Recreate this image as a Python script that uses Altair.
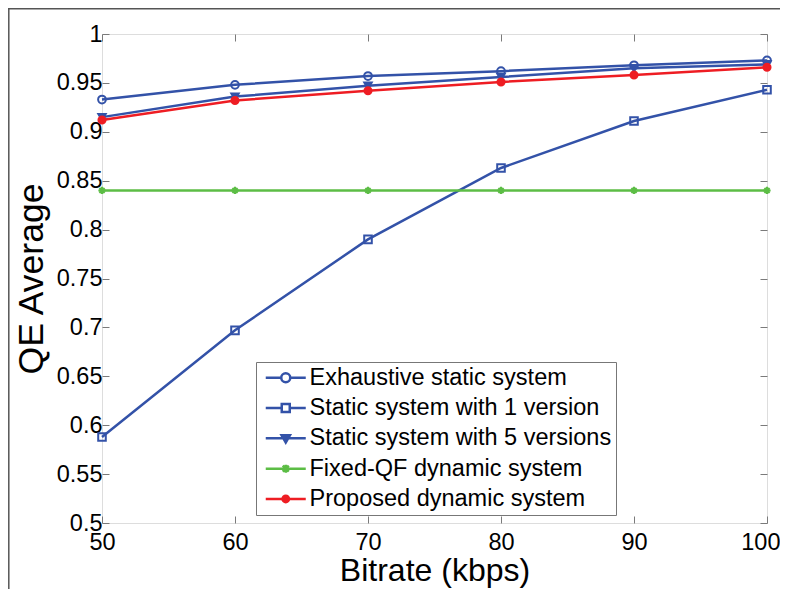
import altair as alt
import pandas as pd

# ---- data ----
bitrate = [50, 60, 70, 80, 90, 100]
series_names = [
    "Exhaustive static system",
    "Static system with 1 version",
    "Static system with 5 versions",
    "Fixed-QF dynamic system",
    "Proposed dynamic system",
]
exhaustive = [0.933, 0.948, 0.957, 0.962, 0.968, 0.973]
static_1 = [0.588, 0.697, 0.790, 0.863, 0.911, 0.943]
static_5 = [0.915, 0.936, 0.947, 0.956, 0.965, 0.969]
fixed_qf = [0.840, 0.840, 0.840, 0.840, 0.840, 0.840]
proposed = [0.912, 0.932, 0.942, 0.951, 0.958, 0.966]

x_ticks = [50, 60, 70, 80, 90, 100]
y_ticks = [0.5, 0.55, 0.6, 0.65, 0.7, 0.75, 0.8, 0.85, 0.9, 0.95, 1.0]

# ---- styles ----
BLUE = "#3352a8"
GREEN = "#5cbd45"
RED = "#ee1d23"
line_colors = [BLUE, BLUE, BLUE, GREEN, RED]
fill_colors = ["transparent", "transparent", BLUE, GREEN, RED]
line_widths = [2.5, 2.5, 2.5, 2.5, 3.2]
asterisk = "M-1,0L1,0M0,-1L0,1M-0.7,-0.7L0.7,0.7M-0.7,0.7L0.7,-0.7"
marker_shapes = ["circle", "square", "triangle-down", asterisk, "circle"]
marker_sizes = [70, 64, 64, 60, 50]
# legend glyphs: a line with the marker on it (filled markers drawn as nested outlines)
legend_paths = [
    "M-2,0L-0.45,0M0.45,0L2,0M0.45,0A0.45,0.45,0,1,1,-0.45,0A0.45,0.45,0,1,1,0.45,0Z",
    "M-2,0L-0.4,0M0.4,0L2,0M-0.4,-0.4L0.4,-0.4L0.4,0.4L-0.4,0.4Z",
    "M-2,0L2,0M-0.42,-0.32L0.42,-0.32L0,0.42ZM-0.22,-0.2L0.22,-0.2L0,0.2Z",
    "M-2,0L2,0M0,-0.4L0,0.4M-0.3,-0.3L0.3,0.3M-0.3,0.3L0.3,-0.3",
    "M-2,0L2,0M0.32,0A0.32,0.32,0,1,1,-0.32,0A0.32,0.32,0,1,1,0.32,0Z"
    "M0.15,0A0.15,0.15,0,1,1,-0.15,0A0.15,0.15,0,1,1,0.15,0Z",
]

rows = []
for name, vals in zip(series_names, [exhaustive, static_1, static_5, fixed_qf, proposed]):
    for b, v in zip(bitrate, vals):
        rows.append({"series": name, "bitrate": b, "qe": v})
df = pd.DataFrame(rows)


def chain(values):
    expr = "'" + values[-1] + "'"
    for name, val in reversed(list(zip(series_names[:-1], values[:-1]))):
        expr = f"datum.value === '{name}' ? '{val}' : ({expr})"
    return expr


FONT = "Liberation Sans"
AXIS_GREY = "#7a7a7a"
W, H = 665, 489

xscale = alt.Scale(domain=[50, 100], nice=False, zero=False)
yscale = alt.Scale(domain=[0.5, 1.0], nice=False, zero=False)

legend = alt.Legend(
    orient="none", legendX=154, legendY=328, title=None,
    symbolSize=400, symbolStrokeWidth=2.5,
    symbolType={"expr": chain(legend_paths)},
    symbolFillColor={"expr": chain(fill_colors)},
    labelFontSize=23.5, labelFont=FONT, labelColor="black", labelLimit=0,
    padding=4, rowPadding=5.3, symbolOffset=14, labelOffset=12,
    strokeColor="#777777", fillColor="white",
)

lines = alt.Chart(df).mark_line().encode(
    x=alt.X("bitrate:Q", scale=xscale, axis=alt.Axis(
        orient="bottom", values=x_ticks, format="d", title="Bitrate (kbps)",
        titleFontSize=32, titleFont=FONT, titleFontWeight="normal", titleColor="black",
        titleY=57, titleBaseline="alphabetic",
        labelFontSize=23.5, labelFont=FONT, labelColor="black", labelPadding=14,
        labelFlush=True, labelFlushOffset=13,
        tickSize={"expr": "-7"}, tickColor=AXIS_GREY, domain=False, grid=False)),
    y=alt.Y("qe:Q", scale=yscale, axis=alt.Axis(
        orient="left", values=y_ticks, format=".2~f", title="QE Average",
        titleFontSize=35.5, titleFont=FONT, titleFontWeight="normal", titleColor="black",
        titleX=-60, titleY=H / 2, titleAngle=270, titleAlign="center", titleBaseline="alphabetic",
        labelFontSize=23.5, labelFont=FONT, labelColor="black", labelPadding=7,
        labelFlush=False,
        tickSize={"expr": "-7"}, tickColor=AXIS_GREY, domain=False, grid=False)),
    color=alt.Color("series:N", scale=alt.Scale(domain=series_names, range=line_colors), legend=legend),
    strokeWidth=alt.StrokeWidth("series:N", scale=alt.Scale(domain=series_names, range=line_widths), legend=None),
    detail="series:N",
)

# marker scales list the series in reverse so they stay out of the line legend
rev = series_names[::-1]
points = alt.Chart(df).mark_point(opacity=1, strokeWidth=2).encode(
    x=alt.X("bitrate:Q", scale=xscale, axis=alt.Axis(
        orient="top", values=x_ticks, labels=False, title=None, domain=False, grid=False,
        tickSize={"expr": "-7"}, tickColor=AXIS_GREY)),
    y=alt.Y("qe:Q", scale=yscale, axis=alt.Axis(
        orient="right", values=y_ticks, labels=False, title=None, domain=False, grid=False,
        tickSize={"expr": "-7"}, tickColor=AXIS_GREY)),
    stroke=alt.Stroke("series:N", scale=alt.Scale(domain=rev, range=line_colors[::-1]), legend=None),
    fill=alt.Fill("series:N", scale=alt.Scale(domain=rev, range=fill_colors[::-1]), legend=None),
    shape=alt.Shape("series:N", scale=alt.Scale(domain=rev, range=marker_shapes[::-1]), legend=None),
    size=alt.Size("series:N", scale=alt.Scale(domain=rev, range=marker_sizes[::-1]), legend=None),
)

one = pd.DataFrame({"k": [0]})
frame_top = alt.Chart(one).mark_rule(color="#555555", strokeWidth=1.5).encode(
    x=alt.value(-94), x2=alt.value(678), y=alt.value(-25.2))
frame_left = alt.Chart(one).mark_rule(color="#555555", strokeWidth=1.5).encode(
    x=alt.value(-93.2), y=alt.value(-26), y2=alt.value(560))

chart = alt.layer(lines, points, frame_top, frame_left).properties(
    width=W, height=H,
    padding={"left": 94, "top": 26, "right": 13, "bottom": 66},
    autosize="none",
).configure_view(stroke="#8a8a8a", strokeWidth=1.5).configure(background="white")

chart.save("out.html", embed_options={"renderer": "svg", "actions": False})
